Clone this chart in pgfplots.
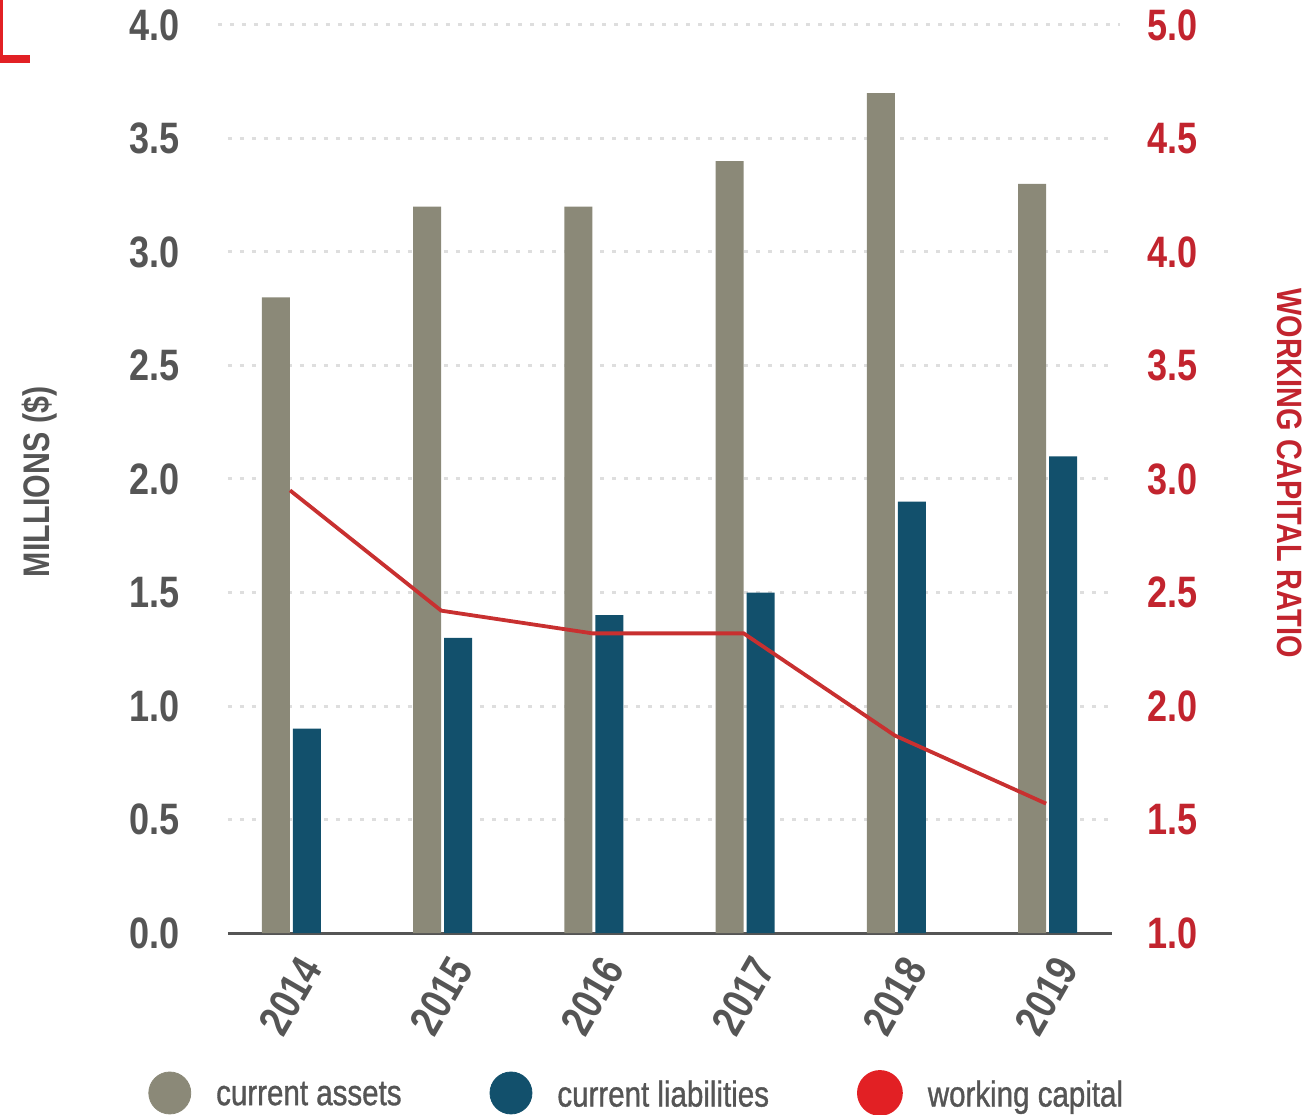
\documentclass[border=0pt]{standalone}
\usepackage{fontspec}
\setmainfont{Liberation Sans}[FakeStretch=0.82]
\newfontfamily\legendfont{Liberation Sans}[FakeStretch=0.82, FakeBold=1]
\usepackage{pgfplots}
\pgfplotsset{compat=1.18}

\definecolor{assetgray}{RGB}{139,137,120}
\definecolor{liabblue}{RGB}{18,80,108}
\definecolor{ratiored}{RGB}{200,48,48}
\definecolor{labelred}{RGB}{194,36,46}
\definecolor{dotred}{RGB}{226,32,36}
\definecolor{textgray}{RGB}{85,85,85}
\definecolor{gridgray}{RGB}{222,222,222}

\pgfplotsset{
  common/.style={
    at={(0,0)}, anchor=south west,
    scale only axis, width=442pt, height=454pt,
    xmin=-0.41, xmax=5.436,
    major tick length=0pt,
    /pgf/number format/assume math mode=true,
    /pgf/number format/.cd, fixed, fixed zerofill, precision=1, /pgfplots/.cd,
  },
}

\begin{document}
\begin{tikzpicture}
\path[use as bounding box] (-114pt,-90.5pt) rectangle (542pt,466.5pt);
% red corner mark, cut by the frame
\fill[dotred] (-114pt,435pt) rectangle (-99pt,439pt);
\fill[dotred] (-114pt,435pt) rectangle (-112.4pt,466.5pt);

\begin{axis}[common,
  ymin=0, ymax=4,
  ybar, bar width=14pt,
  axis x line*=bottom, axis y line*=left,
  x axis line style={draw=textgray, line width=1.5pt},
  y axis line style={draw=none},
  xtick={0,1,2,3,4,5},
  xticklabels={2014,2015,2016,2017,2018,2019},
  ytick={0,0.5,...,4},
  ymajorgrids,
  grid style={gridgray, line width=1.5pt, dash pattern=on 2pt off 4pt,
    shorten <=-5pt, shorten >=-4pt},
  tick label style={font=\fontsize{22}{24}\selectfont\bfseries, text=textgray},
  yticklabel style={anchor=east, inner sep=0pt, xshift=-24pt},
  xticklabel style={yshift=-31.5pt, anchor=center, inner sep=0pt, rotate=60},
  ylabel={MILLIONS (\$)},
  ylabel style={at={(axis description cs:-0.2127,0.4967)}, anchor=center,
    font=\fontsize{18.5}{20}\selectfont\bfseries, text=textgray},
]
\addplot[fill=assetgray, draw=none, bar shift=-7pt]
  coordinates {(0,2.8) (1,3.2) (2,3.2) (3,3.4) (4,3.7) (5,3.3)};
\addplot[fill=liabblue, draw=none, bar shift=8.5pt]
  coordinates {(0,0.9) (1,1.3) (2,1.4) (3,1.5) (4,1.9) (5,2.1)};
\end{axis}

\begin{axis}[common,
  ymin=1, ymax=5,
  axis x line=none, axis y line*=right,
  y axis line style={draw=none},
  ytick={1,1.5,...,5},
  yticklabel style={font=\fontsize{22}{24}\selectfont\bfseries, text=labelred,
    anchor=west, inner sep=0pt, xshift=17.5pt},
  ylabel={WORKING CAPITAL RATIO},
  ylabel style={at={(axis description cs:1.2014,0.5066)}, anchor=center,
    rotate=180, font=\fontsize{17.6}{20}\selectfont\bfseries, text=labelred},
  legend columns=-1,
  legend style={draw=none, fill=none, inner sep=0pt,
    at={(axis description cs:-0.0905,-0.1762)}, anchor=west,
    font=\legendfont\fontsize{18}{20}\selectfont, text=textgray,
    nodes={inner sep=0pt},
    /tikz/every odd column/.append style={column sep=12.5pt},
    /tikz/every even column/.append style={column sep=44pt}},
]
\addlegendimage{legend image code/.code={\fill[assetgray] (10.5pt,1pt) circle[radius=10.5pt];}}
\addlegendentry{current assets}
\addlegendimage{legend image code/.code={\fill[liabblue] (10.5pt,1pt) circle[radius=10.5pt];}}
\addlegendentry{current liabilities}
\addplot[ratiored, line width=1.9pt, mark=none,
  legend image code/.code={\fill[dotred] (10.5pt,1pt) circle[radius=10.5pt];}]
  coordinates {(0,2.95) (1,2.42) (2,2.32) (3,2.32) (4,1.87) (5,1.57)};
\addlegendentry{working capital}
\end{axis}
\end{tikzpicture}
\end{document}
